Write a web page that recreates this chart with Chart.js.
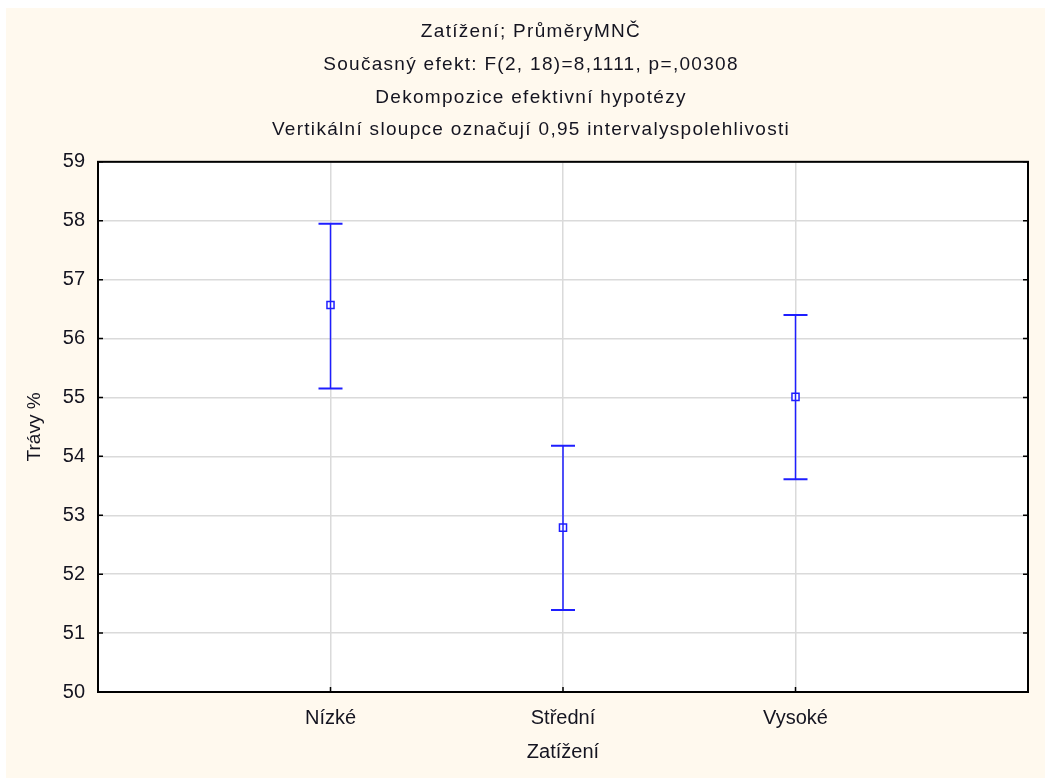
<!DOCTYPE html>
<html>
<head>
<meta charset="utf-8">
<script src="https://cdn.jsdelivr.net/npm/chart.js@4/dist/chart.umd.min.js"></script>
<style>
  html, body { margin: 0; padding: 0; background: #fff; }
  #myChart { display: block; }
</style>
</head>
<body>
<canvas id="myChart" width="1045" height="778"></canvas>
<script>
// categories and values
var categories = ['Nízké', 'Střední', 'Vysoké'];
var means = [56.57, 52.79, 55.01];
var lower = [55.15, 51.39, 53.61];
var upper = [57.95, 54.18, 56.40];
var titleLines = [
  'Zatížení; PrůměryMNČ',
  'Současný efekt: F(2, 18)=8,1111, p=,00308',
  'Dekompozice efektivní hypotézy',
  'Vertikální sloupce označují 0,95 intervalyspolehlivosti'
];
var yTitle = 'Trávy %';
var xTitle = 'Zatížení';

var blue = '#1e1eff';
var font = 'Liberation Sans, Arial, sans-serif';
var textColor = '#141420';

// one line dataset per category for the interval, caps are 'line' points
var datasets = [];
categories.forEach(function (c, i) {
  datasets.push({
    type: 'line',
    data: [{ x: i + 1, y: lower[i] }, { x: i + 1, y: upper[i] }],
    borderColor: blue,
    borderWidth: 1.5,
    showLine: true,
    pointStyle: 'line',
    pointRadius: 12,
    pointBorderWidth: 2,
    pointBorderColor: blue
  });
});
datasets.push({
  type: 'scatter',
  data: means.map(function (m, i) { return { x: i + 1, y: m }; }),
  pointStyle: 'rect',
  pointRadius: 5,
  borderWidth: 1.5,
  borderColor: blue,
  backgroundColor: '#fff'
});

// background, frame and the small inward tick marks
var frame = {
  id: 'frame',
  beforeDraw: function (chart) {
    var ctx = chart.ctx, a = chart.chartArea;
    ctx.save();
    ctx.fillStyle = '#fff';
    ctx.fillRect(0, 0, chart.width, chart.height);
    ctx.fillStyle = '#fff9ee';
    ctx.fillRect(6, 8, chart.width - 6, chart.height - 8);
    ctx.fillStyle = '#fff';
    ctx.fillRect(a.left, a.top, a.right - a.left, a.bottom - a.top);
    ctx.restore();

    // the title text is spaced out a bit and sits a little right of centre
    var tb = chart.titleBlock;
    if (tb && !tb._spaced) {
      var orig = tb.draw;
      tb.draw = function () {
        var c = this.ctx;
        c.save();
        c.letterSpacing = '1.3px';
        c.translate(17, 0);
        orig.apply(this, arguments);
        c.restore();
      };
      tb._spaced = true;
    }
  },
  afterDraw: function (chart) {
    var ctx = chart.ctx, a = chart.chartArea;
    var ys = chart.scales.y, xs = chart.scales.x;
    ctx.save();
    ctx.strokeStyle = '#000';
    ctx.lineWidth = 1.5;
    ctx.beginPath();
    ys.ticks.forEach(function (t) {
      var py = ys.getPixelForValue(t.value);
      ctx.moveTo(a.left, py); ctx.lineTo(a.left + 5, py);
      ctx.moveTo(a.right - 5, py); ctx.lineTo(a.right, py);
    });
    categories.forEach(function (c, i) {
      var px = xs.getPixelForValue(i + 1);
      ctx.moveTo(px, a.bottom); ctx.lineTo(px, a.bottom - 5);
    });
    ctx.stroke();
    ctx.lineWidth = 2;
    ctx.strokeRect(a.left, a.top, a.right - a.left, a.bottom - a.top);
    ctx.restore();
  }
};

var ctx = document.getElementById('myChart').getContext('2d');
var myChart = new Chart(ctx, {
  type: 'scatter',
  data: { datasets: datasets },
  plugins: [frame],
  options: {
    responsive: false,
    animation: false,
    layout: { padding: { left: 0, right: 17, top: 0, bottom: 0 } },
    plugins: {
      legend: { display: false },
      tooltip: { enabled: false },
      title: {
        display: true,
        text: titleLines,
        color: textColor,
        font: { family: font, size: 19, weight: 'normal', lineHeight: 1.72 },
        padding: { top: 15.6, bottom: 15.5 }
      }
    },
    scales: {
      x: {
        type: 'linear',
        min: 0,
        max: 4,
        afterFit: function (s) { s.height = 86; },
        ticks: {
          stepSize: 1,
          padding: 14,
          color: textColor,
          font: { family: font, size: 20 },
          callback: function (v) { return categories[v - 1] || ''; }
        },
        grid: { color: '#dadada', lineWidth: 1.5, drawTicks: false },
        border: { display: false },
        title: {
          display: true,
          text: xTitle,
          color: textColor,
          font: { family: font, size: 20 },
          padding: { top: 0, bottom: 14 }
        }
      },
      y: {
        min: 50,
        max: 59,
        afterFit: function (s) { s.width = 98; },
        ticks: {
          stepSize: 1,
          padding: 13,
          color: textColor,
          font: { family: font, size: 20 }
        },
        grid: { color: '#dadada', lineWidth: 1.5, drawTicks: false },
        border: { display: false },
        title: {
          display: true,
          text: yTitle,
          color: textColor,
          font: { family: font, size: 19 },
          padding: { top: 23, bottom: 0 }
        }
      }
    }
  }
});
</script>
</body>
</html>
